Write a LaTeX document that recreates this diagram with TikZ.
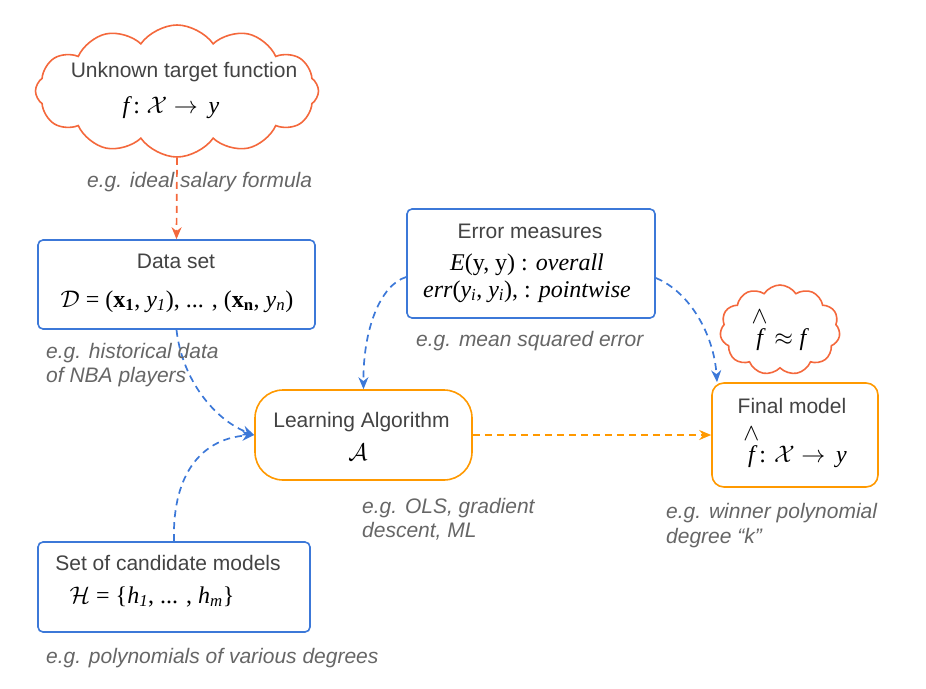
\RequirePackage{fix-cm}
\documentclass[tikz,border=0pt]{standalone}
\usepackage{fontspec}
\setmainfont{Liberation Sans}
\newfontfamily\serfam{Liberation Serif}
\usetikzlibrary{shapes.symbols,arrows.meta}

\definecolor{cloudline}{HTML}{F4683C}
\definecolor{boxblue}{HTML}{3C78D8}
\definecolor{boxorange}{HTML}{FF9900}
\definecolor{titlegray}{HTML}{434343}
\definecolor{notegray}{HTML}{666666}

% serif italic / upright pieces of the formulas
\newcommand{\sv}[1]{{\serfam\itshape #1}}
\newcommand{\su}[1]{{\serfam #1}}
\newcommand{\fhat}{\ensuremath{\stackrel{\raisebox{3pt}{$\wedge$}}{\mbox{\sv{f}}}}}

\tikzset{
  bluebox/.style={draw=boxblue, line width=1.6pt, rounded corners=5pt, fill=white, inner sep=0pt},
  orangebox/.style={draw=boxorange, line width=1.6pt, fill=white, inner sep=0pt},
  puffy/.style={cloud, draw=cloudline, line width=1.6pt, fill=white, inner sep=0pt},
  title/.style={text=titlegray, font=\fontsize{21}{25}\selectfont, anchor=base, inner sep=0pt},
  formula/.style={text=black, font=\fontsize{24}{28}\selectfont, anchor=base, inner sep=0pt},
  note/.style={text=notegray, font=\fontsize{21}{25}\selectfont\itshape, anchor=base west, inner sep=0pt},
  blueflow/.style={draw=boxblue, line width=1.7pt, dash pattern=on 7pt off 5pt,
    -{Stealth[length=12pt,width=10pt]}},
  orangeflow/.style={line width=1.7pt, dash pattern=on 7pt off 5pt,
    -{Stealth[length=12pt,width=10pt]}},
}

\begin{document}
\begin{tikzpicture}[x=1pt,y=-1pt]
\useasboundingbox (0,0) rectangle (926,688);

% clouds
\node[puffy, cloud puffs=12, cloud puff arc=110, minimum width=283pt, minimum height=132pt] (target) at (177,91) {};
\node[puffy, cloud puffs=11, cloud puff arc=115, minimum width=120pt, minimum height=90pt] (approx) at (780,330) {};

% boxes
\node[bluebox, minimum width=277pt, minimum height=89pt] (data) at (176.5,284.5) {};
\node[bluebox, minimum width=248pt, minimum height=109pt] (error) at (531,263.5) {};
\node[bluebox, minimum width=272pt, minimum height=90pt] (cand) at (174,587) {};
\node[orangebox, rounded corners=28pt, minimum width=217pt, minimum height=90pt] (learn) at (363.5,435) {};
\node[orangebox, rounded corners=12pt, minimum width=166pt, minimum height=104pt] (final) at (795,435) {};

% connectors
\draw[orangeflow, draw=cloudline] (target.south) -- (data.north);
\draw[blueflow] (data.south) .. controls (182,380) and (215,420) .. (learn.west);
\draw[blueflow] (cand.north) .. controls (172,470) and (205,438) .. (learn.west);
\draw[blueflow] ([yshift=-13.5pt]error.west) .. controls (380,285) and (363,330) .. (learn.north);
\draw[blueflow] ([yshift=-14.5pt]error.east) .. controls (690,292) and (714,335) .. ([xshift=-78pt]final.north);
\draw[orangeflow, draw=boxorange] (learn.east) -- (final.west);

% texts in the shapes
\node[title] (targetT) at (184,77) {Unknown target function};
\node[formula] (targetF) at (171,113) {\sv{f}\,\su{:}\ $\mathcal{X}\rightarrow{}$\,\sv{y}};

\node[title] (dataT) at (176,268) {Data set};
\node[formula] (dataF) at (177,307) {$\mathcal{D}$\su{ = (}{\serfam\bfseries x}\textsubscript{\serfam\bfseries 1}\su{, }\sv{y}\textsubscript{\sv{1}}\su{), ... , (}{\serfam\bfseries x}\textsubscript{\serfam\bfseries n}\su{, }\sv{y}\textsubscript{\sv{n}}\su{)}};

\node[title] (errorT) at (530,238) {Error measures};
\node[formula] (errorF) at (527,270) {\sv{E}\su{(y, y) : }\sv{overall}};
\node[formula] (errorG) at (527,297) {\sv{err}\su{(}\sv{y}\textsubscript{\sv{i}}\su{, }\sv{y}\textsubscript{\sv{i}}\su{), : }\sv{pointwise}};

\node[title] (learnT) at (361.5,427) {Learning Algorithm};
\node[formula] (learnF) at (358,460) {$\mathcal{A}$};

\node[title] (finalT) at (792,413) {Final model};
\node[formula] (finalF) at (795,462) {\fhat\su{: }$\mathcal{X}\rightarrow{}$\,\sv{y}};

\node[formula] (approxF) at (779,345) {\fhat\ $\approx$ \sv{f}};

\node[title] (candT) at (168,570) {Set of candidate models};
\node[formula] (candF) at (152,603) {$\mathcal{H}$\su{ = \{}\sv{h}\textsubscript{\sv{1}}\su{, ... , }\sv{h}\textsubscript{\sv{m}}\su{\}}};

% notes
\node[note] (targetN) at (87,187) {e.g. ideal salary formula};
\node[note] (dataN) at (46,358) {e.g. historical data};
\node[note] (dataM) at (46,382) {of NBA players};
\node[note] (errorN) at (416,346) {e.g. mean squared error};
\node[note] (learnN) at (362,513) {e.g. OLS, gradient};
\node[note] (learnM) at (362,537) {descent, ML};
\node[note] (finalN) at (666,518) {e.g. winner polynomial};
\node[note] (finalM) at (666,543) {degree “k”};
\node[note] (candN) at (46,663) {e.g. polynomials of various degrees};
\end{tikzpicture}
\end{document}
